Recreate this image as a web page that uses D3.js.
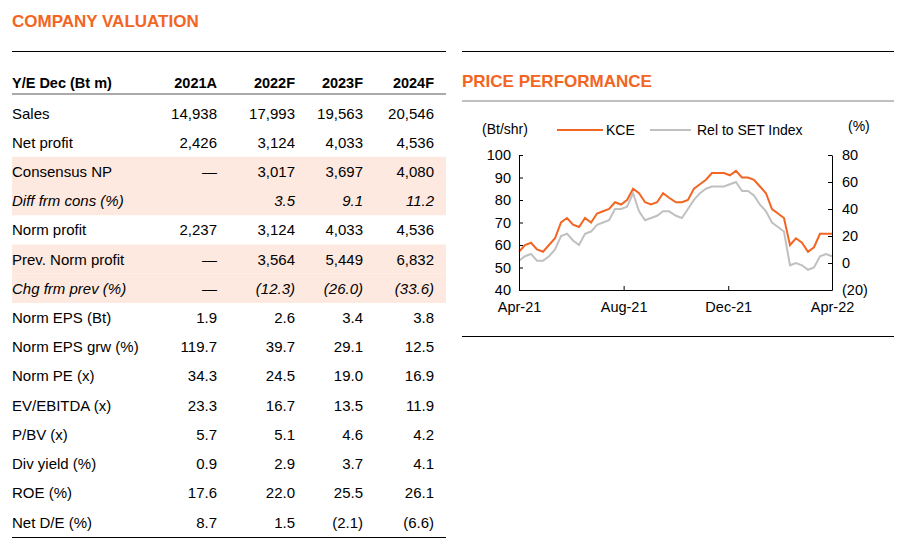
<!DOCTYPE html>
<html><head><meta charset="utf-8">
<script src="https://cdn.jsdelivr.net/npm/d3@7"></script>
<style>body{margin:0;background:#fff}svg{font-family:"Liberation Sans",Arial,sans-serif}</style>
</head><body><svg id="c" width="910" height="553"></svg>
<script>
// table data
const years = ["2021A", "2022F", "2023F", "2024F"];
const rowLabels = ["Sales", "Net profit", "Consensus NP", "Diff frm cons (%)", "Norm profit", "Prev. Norm profit",
  "Chg frm prev (%)", "Norm EPS (Bt)", "Norm EPS grw (%)", "Norm PE (x)", "EV/EBITDA (x)", "P/BV (x)",
  "Div yield (%)", "ROE (%)", "Net D/E (%)"];
const rowValues = [
  ["14,938", "17,993", "19,563", "20,546"], ["2,426", "3,124", "4,033", "4,536"],
  ["—", "3,017", "3,697", "4,080"], ["", "3.5", "9.1", "11.2"],
  ["2,237", "3,124", "4,033", "4,536"], ["—", "3,564", "5,449", "6,832"],
  ["—", "(12.3)", "(26.0)", "(33.6)"], ["1.9", "2.6", "3.4", "3.8"],
  ["119.7", "39.7", "29.1", "12.5"], ["34.3", "24.5", "19.0", "16.9"],
  ["23.3", "16.7", "13.5", "11.9"], ["5.7", "5.1", "4.6", "4.2"],
  ["0.9", "2.9", "3.7", "4.1"], ["17.6", "22.0", "25.5", "26.1"], ["8.7", "1.5", "(2.1)", "(6.6)"]];
const shadedRows = [2, 3, 5, 6];
const italicRows = [3, 6];

// price chart data (weekly)
const kce = [57, 60, 61, 58, 57, 60, 63, 70, 72, 69, 68, 72, 70, 74, 75, 76, 79, 78, 80, 85, 83, 79, 78, 79, 83, 81, 79,
  79, 80, 85, 87, 89, 92, 92, 92, 91, 93, 90, 90, 89, 86, 83, 76, 74, 72, 60, 63, 61, 57, 59, 65, 65, 65];
const rel = [1.7, 5, 6.7, 1.7, 1.7, 5, 10, 20, 21.7, 16.7, 13.3, 21.7, 23.3, 28.3, 30, 31.7, 40, 40, 41.7, 51.7, 38.3,
  31.7, 33.3, 35, 38.3, 38.3, 35, 33.3, 40, 46.7, 51.7, 55, 56.7, 56.7, 56.7, 58.3, 60, 53.3, 53.3, 50, 43.3, 38.3,
  30, 26.7, 23.3, -1.7, 0, -1.7, -5, -3.3, 5, 6.7, 5];
const dates = d3.range(kce.length).map(i => d3.timeDay.offset(new Date(2021, 3, 1), Math.round(i * 365 / (kce.length - 1))));
const xTicks = [new Date(2021, 3, 1), new Date(2021, 7, 1), new Date(2021, 11, 1), new Date(2022, 3, 1)];

const orange = "#f26522", gray = "#c0c0c0";
const svg = d3.select("#c");

// ---- table ----
svg.append("text").attr("x", 12).attr("y", 27).attr("fill", orange).attr("font-weight", "bold")
  .attr("font-size", 17).text("COMPANY VALUATION");
svg.append("line").attr("x1", 12).attr("x2", 446).attr("y1", 51.5).attr("y2", 51.5).attr("stroke", "#000");
svg.append("line").attr("x1", 12).attr("x2", 446).attr("y1", 94).attr("y2", 94).attr("stroke", "#aaa").attr("stroke-width", 2);
svg.append("line").attr("x1", 12).attr("x2", 446).attr("y1", 537.5).attr("y2", 537.5).attr("stroke", "#000");

const colX = [217, 295, 363, 434];
const rowY = d3.scaleLinear().domain([0, rowLabels.length - 1]).range([113, 522]);
const step = rowY(1) - rowY(0);
shadedRows.forEach(r => svg.append("rect").attr("x", 12).attr("width", 434)
  .attr("y", rowY(r) - step / 2).attr("height", step).attr("fill", "#fde9df"));

svg.append("text").attr("x", 12).attr("y", 88).attr("font-weight", "bold").attr("font-size", 14.5).text("Y/E Dec (Bt m)");
years.forEach((y, i) => svg.append("text").attr("x", colX[i]).attr("y", 88).attr("text-anchor", "end")
  .attr("font-weight", "bold").attr("font-size", 14.5).text(y));

rowLabels.forEach((lab, r) => {
  const g = svg.append("g").attr("font-size", 15)
    .attr("font-style", italicRows.includes(r) ? "italic" : "normal");
  g.append("text").attr("x", 12).attr("y", rowY(r) + 5.5).text(lab);
  rowValues[r].forEach((v, i) => g.append("text").attr("x", colX[i]).attr("y", rowY(r) + 5.5)
    .attr("text-anchor", "end").text(v));
});

// ---- price chart ----
svg.append("line").attr("x1", 462).attr("x2", 894).attr("y1", 51.5).attr("y2", 51.5).attr("stroke", "#000");
svg.append("text").attr("x", 462).attr("y", 87).attr("fill", orange).attr("font-weight", "bold")
  .attr("font-size", 17).text("PRICE PERFORMANCE");
svg.append("line").attr("x1", 462).attr("x2", 894).attr("y1", 101).attr("y2", 101).attr("stroke", "#aaa").attr("stroke-width", 1.5);
svg.append("line").attr("x1", 462).attr("x2", 894).attr("y1", 336.5).attr("y2", 336.5).attr("stroke", "#000");

const x = d3.scaleTime().domain([xTicks[0], xTicks[3]]).range([519, 832]);
const yL = d3.scaleLinear().domain([40, 100]).range([290, 155]);
const yR = d3.scaleLinear().domain([-20, 80]).range([290, 155]);

svg.append("path").datum(rel).attr("fill", "none").attr("stroke", gray).attr("stroke-width", 2)
  .attr("d", d3.line().x((d, i) => x(dates[i])).y(d => yR(d)));
svg.append("path").datum(kce).attr("fill", "none").attr("stroke", orange).attr("stroke-width", 2)
  .attr("d", d3.line().x((d, i) => x(dates[i])).y(d => yL(d)));

const fmtR = v => v < 0 ? `(${-v})` : v;
const gl = svg.append("g").attr("transform", "translate(519,0)")
  .call(d3.axisLeft(yL).tickValues(d3.range(40, 101, 10)).tickSize(4).tickSizeOuter(0));
const gr = svg.append("g").attr("transform", "translate(832,0)")
  .call(d3.axisRight(yR).tickValues(d3.range(-20, 81, 20)).tickFormat(fmtR).tickSize(4).tickSizeOuter(0));
const gb = svg.append("g").attr("transform", "translate(0,290)")
  .call(d3.axisBottom(x).tickValues(xTicks).tickFormat(d3.timeFormat("%b-%y")).tickSize(4).tickSizeOuter(0));
[gl, gr, gb].forEach(g => {
  g.selectAll("text").attr("font-size", 14.5).attr("fill", "#000").attr("font-family", "Liberation Sans, Arial");
  g.selectAll("line,path").attr("stroke", "#000");
});
gl.selectAll("line").attr("x2", 4);
gr.selectAll("line").attr("x2", -4);
gr.selectAll("text").attr("x", 10);
gl.selectAll("text").attr("x", -8);
gb.selectAll("line").attr("y2", -4);
gb.selectAll("text").attr("y", 12);

svg.append("text").attr("x", 482).attr("y", 134).attr("font-size", 14).text("(Bt/shr)");
svg.append("text").attr("x", 848).attr("y", 131).attr("font-size", 14).text("(%)");
svg.append("line").attr("x1", 557).attr("x2", 603).attr("y1", 130).attr("y2", 130).attr("stroke", orange).attr("stroke-width", 2);
svg.append("text").attr("x", 606).attr("y", 135).attr("font-size", 14).text("KCE");
svg.append("line").attr("x1", 650).attr("x2", 691).attr("y1", 130).attr("y2", 130).attr("stroke", gray).attr("stroke-width", 2);
svg.append("text").attr("x", 697).attr("y", 135).attr("font-size", 14).text("Rel to SET Index");
</script></body></html>
